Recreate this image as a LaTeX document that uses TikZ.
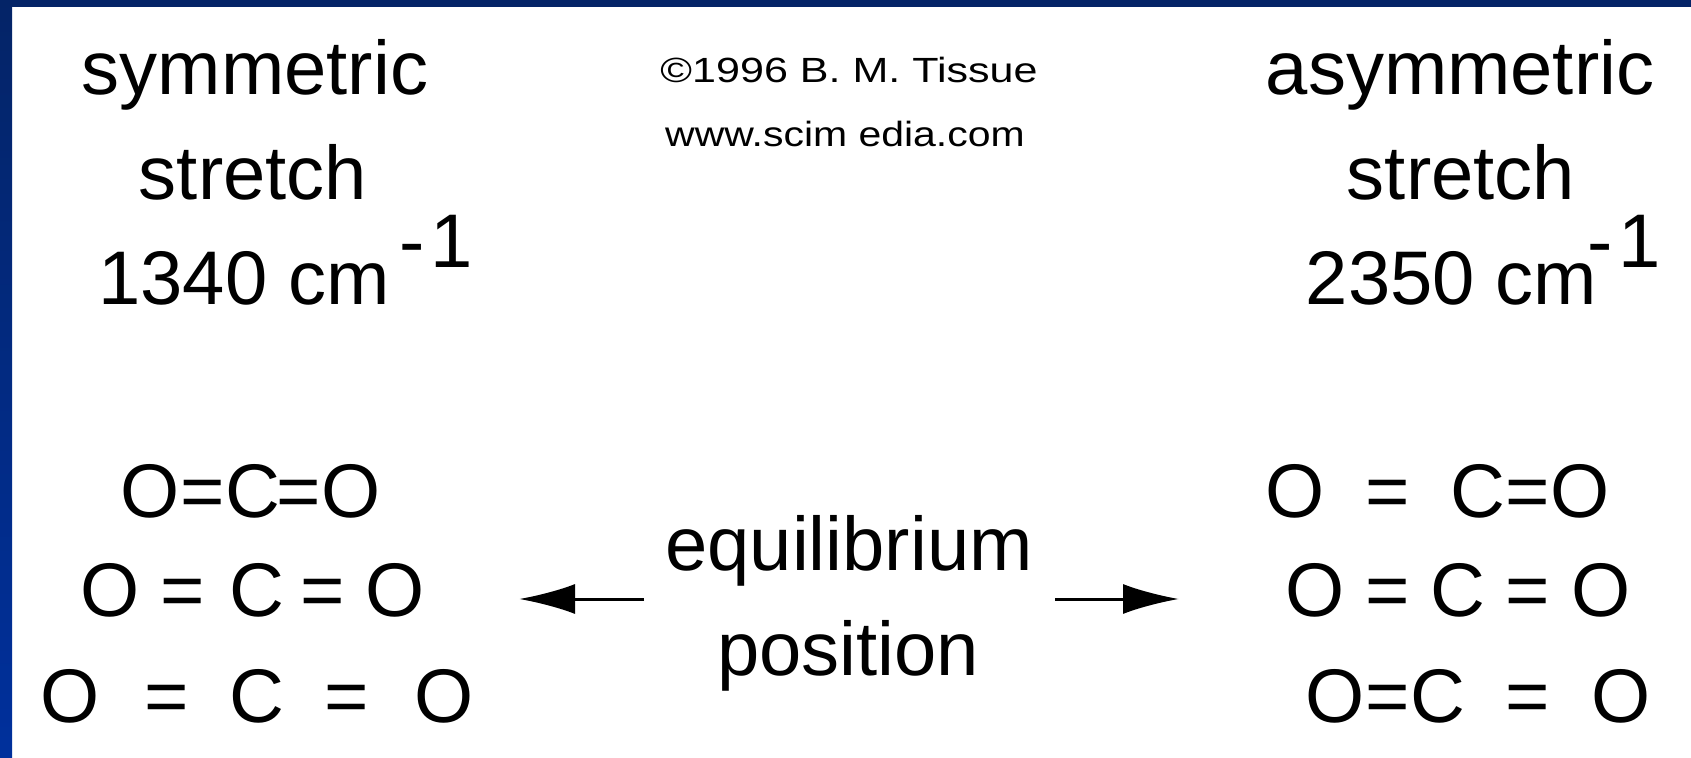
\documentclass[tikz,border=0pt]{standalone}
\usepackage{fontspec}
\setmainfont{Liberation Sans}
\usetikzlibrary{arrows.meta}
\definecolor{navy}{HTML}{042467}
\definecolor{navyb}{HTML}{00309C}
\begin{document}
\begin{tikzpicture}[x=0.5pt,y=-0.5pt,
  big/.style={font=\fontsize{38}{40}\selectfont, inner sep=0pt, anchor=base},
  small/.style={font=\fontsize{17.5}{19}\selectfont, inner sep=0pt, anchor=base},
  atom/.style={big},
  arr/.style={line width=1.5pt, -{Latex[length=28pt,width=15pt]}}]
\useasboundingbox (0,0) rectangle (1691,758);
\fill[white] (0,0) rectangle (1691,758);
\shade[top color=navy, bottom color=navyb] (0,0) rectangle (12,758);
\fill[navy] (0,0) rectangle (1691,7);

% left titles
\node[big] (symL) at (255,95) {symmetric};
\node[big] (strL) at (253,200) {stretch};
\node[big] (wnL) at (244,305) {1340 cm};
\node[big, anchor=base west] (supL) at (398.6,268) {-\kern3pt 1};
% right titles
\node[big] (asymR) at (1460,95) {asymmetric};
\node[big] (strR) at (1461,200) {stretch};
\node[big] (wnR) at (1451.5,305) {2350 cm};
\node[big, anchor=base west] (supR) at (1586.6,268) {-\kern3pt 1};
% credits
\node[small] (copy) at (849,83) {\scalebox{1.23}[1]{©1996 B. M. Tissue}};
\node[small] (web) at (845,147) {\scalebox{1.17}[1]{www.scim edia.com}};
% centre label
\node[big] (eq) at (849,570) {equilibrium};
\node[big] (pos) at (848,675) {position};

% molecules, left
\foreach \n/\t/\x/\y in {
  LaO1/O/150.5/517, LaE1/=/203/517, LaC/C/253/517, LaE2/=/299/517, LaO2/O/351.5/517,
  LbO1/O/110.5/617, LbE1/=/183/617, LbC/C/257/617, LbE2/=/323/617, LbO2/O/395.5/617,
  LcO1/O/70/722, LcE1/=/167/722, LcC/C/257/722, LcE2/=/347/722, LcO2/O/444/722,
  RaO1/O/1295/517, RaE1/=/1388/517, RaC/C/1478/517, RaE2/=/1528/517, RaO2/O/1580.5/517,
  RbO1/O/1315.5/617, RbE1/=/1388/617, RbC/C/1458/617, RbE2/=/1528/617, RbO2/O/1601/617,
  RcO1/O/1335.5/722, RcE1/=/1388/722, RcC/C/1438/722, RcE2/=/1528/722, RcO2/O/1621/722}
  \node[atom] (\n) at (\x,\y) {\t};

% arrows
\coordinate (laS) at (644,599);
\coordinate (laT) at (519,599);
\coordinate (raS) at (1055,599);
\coordinate (raT) at (1179,599);
\draw[arr] (laS) -- (laT);
\draw[arr] (raS) -- (raT);
\end{tikzpicture}
\end{document}
